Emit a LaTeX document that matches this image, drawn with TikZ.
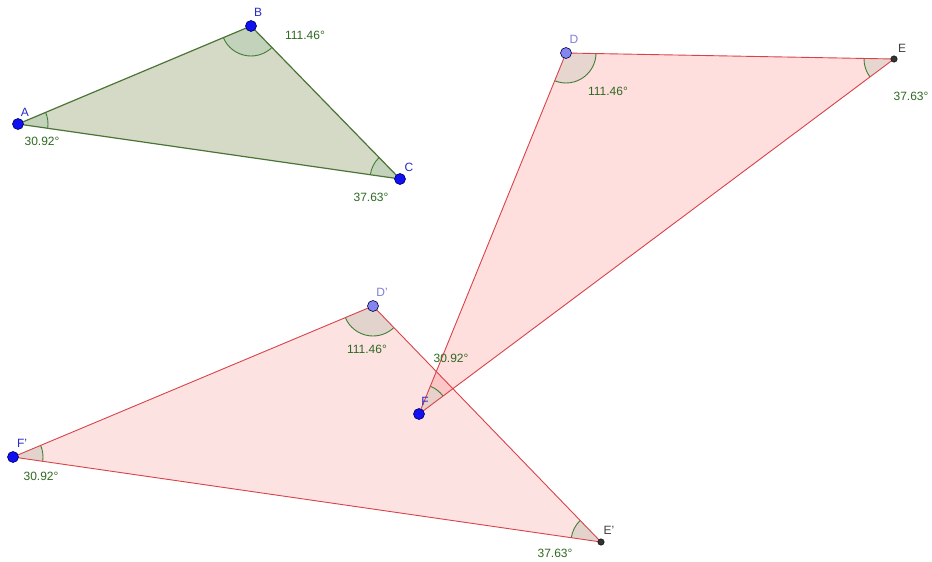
\documentclass[tikz,border=0pt]{standalone}
\usepackage{fontspec}
\setmainfont{Liberation Sans}
\usetikzlibrary{angles}
\definecolor{gfill}{HTML}{D5DAC6}
\definecolor{gang}{HTML}{C3D2BA}
\definecolor{gedge}{HTML}{4C7436}
\definecolor{pfill}{HTML}{FDE2E2}
\definecolor{pang}{HTML}{E2D4CC}
\definecolor{pedge}{HTML}{D8434A}
\definecolor{arcg}{HTML}{3F7F35}
\definecolor{lblue}{HTML}{2A2AC8}
\definecolor{llblue}{HTML}{7F7FD6}
\definecolor{lgray}{HTML}{404040}
\definecolor{angtxt}{HTML}{2E6A20}
\definecolor{ptblue}{HTML}{1010F0}
\definecolor{ptlight}{HTML}{8585EE}
\tikzset{
  txt/.style={font=\fontsize{12}{14}\selectfont, inner sep=0pt, anchor=center},
  ptlab/.style={txt, text=lblue},
  ptlablight/.style={txt, text=llblue},
  ptlabgray/.style={txt, text=lgray},
  anglab/.style={txt, text=angtxt},
  bluept/.style={circle, fill=ptblue, draw=blue!40!black, line width=0.6pt, minimum size=11pt, inner sep=0pt},
  lightpt/.style={circle, fill=ptlight, draw=blue!30!black, line width=0.6pt, minimum size=11pt, inner sep=0pt},
  blackpt/.style={circle, fill=black!80, draw=black, minimum size=6.5pt, inner sep=0pt},
  gangle/.style={draw=arcg, fill=gang, line width=0.9pt, angle radius=30pt},
  pangle/.style={draw=arcg, fill=pang, line width=0.9pt, angle radius=30pt},
}
\begin{document}
\begin{tikzpicture}[x=1pt,y=-1pt]
\useasboundingbox[fill=white] (0,0) rectangle (932,562);
% vertices
\coordinate (A) at (18,124);
\coordinate (B) at (251,26);
\coordinate (C) at (400,179);
\coordinate (D) at (566,53);
\coordinate (E) at (894,59);
\coordinate (F) at (419,414);
\coordinate (D1) at (373,306);
\coordinate (E1) at (601,542);
\coordinate (F1) at (13,457);
% fills
\fill[gfill] (A) -- (B) -- (C) -- cycle;
\fill[pfill] (D1) -- (E1) -- (F1) -- cycle;
\fill[red!60!pink, fill opacity=0.18] (D) -- (E) -- (F) -- cycle;
% angles
\pic[gangle] {angle = C--A--B};
\pic[gangle] {angle = A--B--C};
\pic[gangle] {angle = B--C--A};
\pic[pangle] {angle = F1--D1--E1};
\pic[pangle] {angle = D1--E1--F1};
\pic[pangle] {angle = E1--F1--D1};
\pic[pangle, fill opacity=0.8] {angle = F--D--E};
\pic[pangle, fill opacity=0.8] {angle = D--E--F};
\pic[pangle, fill opacity=0.8] {angle = E--F--D};
% edges
\draw[gedge, line width=1.2pt, line join=round] (A) -- (B) -- (C) -- cycle;
\draw[pedge, line width=0.9pt, line join=round] (D1) -- (E1) -- (F1) -- cycle;
\draw[pedge, line width=0.9pt, line join=round] (D) -- (E) -- (F) -- cycle;
% points
\node[bluept] (pA) at (A) {};
\node[bluept] (pB) at (B) {};
\node[bluept] (pC) at (C) {};
\node[lightpt] (pD) at (D) {};
\node[blackpt] (pE) at (E) {};
\node[bluept] (pF) at (F) {};
\node[lightpt] (pD1) at (D1) {};
\node[blackpt] (pE1) at (E1) {};
\node[bluept] (pF1) at (F1) {};
% point labels
\node[ptlab] (lA) at (25,112) {A};
\node[ptlab] (lB) at (258,12) {B};
\node[ptlab] (lC) at (409,167) {C};
\node[ptlablight] (lD) at (574,39) {D};
\node[ptlabgray] (lE) at (902,48) {E};
\node[ptlab] (lF) at (425,401) {F};
\node[ptlablight] (lD1) at (382,292) {D'};
\node[ptlabgray] (lE1) at (609,530) {E'};
\node[ptlab] (lF1) at (22,443) {F'};
% angle labels
\node[anglab] (aA) at (42,141) {30.92°};
\node[anglab] (aB) at (305,35) {111.46°};
\node[anglab] (aC) at (371,197) {37.63°};
\node[anglab] (aD) at (608,91) {111.46°};
\node[anglab] (aE) at (911,96) {37.63°};
\node[anglab] (aF) at (451,358) {30.92°};
\node[anglab] (aD1) at (367,349) {111.46°};
\node[anglab] (aE1) at (555,553) {37.63°};
\node[anglab] (aF1) at (41,476) {30.92°};
\end{tikzpicture}
\end{document}
